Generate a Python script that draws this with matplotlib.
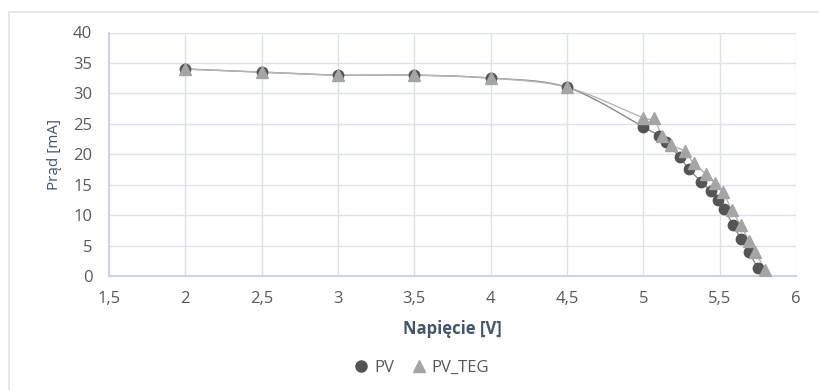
import matplotlib
matplotlib.use("Agg")
import numpy as np
import matplotlib.pyplot as plt
from matplotlib.patches import Rectangle
from matplotlib.lines import Line2D
from matplotlib.ticker import FuncFormatter

pv_v = [2.0, 2.5, 3.0, 3.5, 4.0, 4.5, 5.0, 5.1, 5.15, 5.24, 5.3, 5.38, 5.44, 5.49, 5.53, 5.59, 5.64, 5.69, 5.75]
pv_i = [34.0, 33.5, 33.0, 33.0, 32.5, 31.0, 24.5, 23.0, 22.0, 19.5, 17.5, 15.5, 14.0, 12.5, 11.0, 8.3, 6.0, 4.0, 1.3]

teg_v = [2.0, 2.5, 3.0, 3.5, 4.0, 4.5, 5.0, 5.07, 5.12, 5.18, 5.27, 5.33, 5.41, 5.47, 5.52, 5.58, 5.64, 5.69, 5.73, 5.8]
teg_i = [34.0, 33.5, 33.0, 33.0, 32.5, 31.0, 26.0, 26.0, 23.0, 21.5, 20.5, 18.5, 16.8, 15.2, 13.8, 10.8, 8.3, 5.8, 4.0, 1.0]

x_ticks = [1.5, 2, 2.5, 3, 3.5, 4, 4.5, 5, 5.5, 6]
y_ticks = [0, 5, 10, 15, 20, 25, 30, 35, 40]


def smooth_path(xs, ys, ax, n=20, tension=0.5):
    # Catmull-Rom style smoothing done in display space (like Excel's smoothed line)
    pts = ax.transData.transform(np.column_stack([xs, ys]))
    P = np.vstack([pts[0], pts, pts[-1]])
    out = []
    for k in range(1, len(P) - 2):
        p0, p1, p2, p3 = P[k - 1], P[k], P[k + 1], P[k + 2]
        m1 = (p2 - p0) * tension
        m2 = (p3 - p1) * tension
        t = np.linspace(0, 1, n)[:, None]
        h00 = 2 * t**3 - 3 * t**2 + 1
        h10 = t**3 - 2 * t**2 + t
        h01 = -2 * t**3 + 3 * t**2
        h11 = t**3 - t**2
        out.append(h00 * p1 + h10 * m1 + h01 * p2 + h11 * m2)
    seg = np.vstack(out)
    return ax.transData.inverted().transform(seg)


plt.rcParams['font.family'] = ['Open Sans', 'DejaVu Sans']

fig = plt.figure(figsize=(8.19, 3.90), dpi=100)
fig.patches.append(Rectangle((9 / 819, -0.1), 1.0, 1 - 12 / 390 + 0.1, transform=fig.transFigure,
                             fill=False, edgecolor='#dfe3ea', linewidth=1.2))

ax = fig.add_axes([109 / 819, 1 - 276 / 390, (796 - 109) / 819, (276 - 32.5) / 390])

tick_col = '#595959'
lab_col = '#44546a'
grid_col = '#dde2ea'

ax.set_xlim(1.5, 6)
ax.set_ylim(0, 40)

s1 = smooth_path(pv_v, pv_i, ax)
s2 = smooth_path(teg_v, teg_i, ax)
ax.plot(s1[:, 0], s1[:, 1], color='#8a8a8a', lw=1.0, zorder=2)
ax.plot(s2[:, 0], s2[:, 1], color='#b5b5b5', lw=1.0, zorder=2)
ax.plot(pv_v, pv_i, 'o', color='#555555', ms=7.5, mec='#555555', ls='none', zorder=3)
ax.plot(teg_v, teg_i, '^', color='#a5a5a5', ms=9, mec='#a5a5a5', ls='none', zorder=4)

ax.set_xticks(x_ticks)
ax.set_yticks(y_ticks)
fmt = FuncFormatter(lambda v, p: ('%g' % v).replace('.', ','))
ax.xaxis.set_major_formatter(fmt)
ax.yaxis.set_major_formatter(fmt)
ax.grid(True, color=grid_col, lw=1.0)
ax.set_axisbelow(True)
for s in ['top', 'right']:
    ax.spines[s].set_visible(False)
for s in ['left', 'bottom']:
    ax.spines[s].set_color('#cfd5df')
    ax.spines[s].set_linewidth(1.5)
ax.tick_params(length=0, labelsize=12, colors=tick_col, pad=11)
ax.tick_params(axis='y', pad=12)

ax.set_xlabel('Napięcie [V]', fontsize=12, fontweight='bold', color=lab_col, labelpad=9)
ax.set_ylabel('Prąd [mA]', fontsize=11, color=lab_col, labelpad=8)

handles = [Line2D([], [], marker='o', color='#555555', ms=8, ls='none'),
           Line2D([], [], marker='^', color='#a5a5a5', ms=9, ls='none')]
leg = fig.legend(handles, ['PV', 'PV_TEG'], loc='center', bbox_to_anchor=(421 / 819, 1 - 368 / 390),
                 ncol=2, frameon=False, fontsize=12, handletextpad=0.25, columnspacing=1.0,
                 borderaxespad=0, handlelength=1.0)
for t in leg.get_texts():
    t.set_color(tick_col)

fig.savefig('out.png', dpi=100, facecolor='white')
